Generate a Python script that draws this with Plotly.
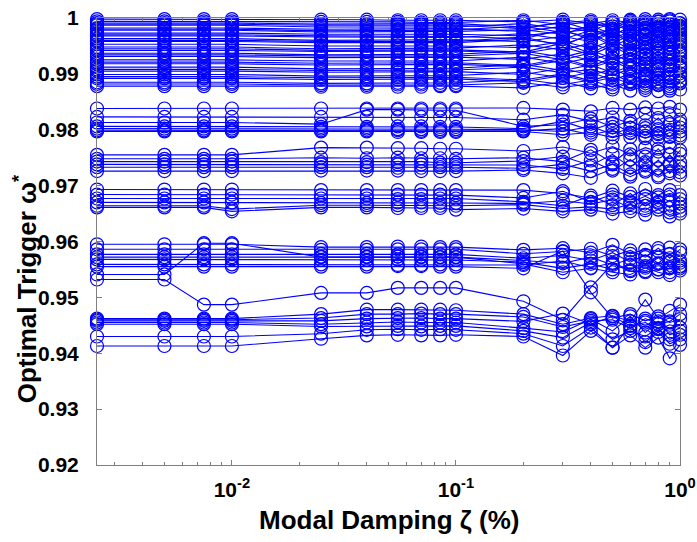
import numpy as np
import plotly.graph_objects as go

# modal damping values (x axis, log scale)
damping = [0.0025, 0.005, 0.0075, 0.01, 0.025, 0.04, 0.055, 0.07, 0.085, 0.1,
           0.2, 0.3, 0.4, 0.5, 0.6, 0.7, 0.8, 0.9, 1.0]

# optimal trigger values, one row per curve, grouped by band
band_top = [
    [0.9998, 0.9998, 0.9998, 0.9998, 0.9997, 0.9997, 0.9996, 0.9996, 0.9996, 0.9996, 0.9993, 0.9997, 0.9990, 0.9996, 0.9992, 0.9998, 0.9989, 0.9994, 0.9997],
    [0.9994, 0.9994, 0.9994, 0.9994, 0.9993, 0.9993, 0.9993, 0.9992, 0.9992, 0.9992, 0.9996, 0.9988, 0.9993, 0.9981, 0.9995, 0.9983, 0.9994, 0.9989, 0.9985],
    [0.9991, 0.9991, 0.9991, 0.9991, 0.9989, 0.9989, 0.9990, 0.9990, 0.9990, 0.9990, 0.9984, 0.9991, 0.9996, 0.9985, 0.9997, 0.9988, 0.9993, 0.9984, 0.9990],
    [0.9989, 0.9989, 0.9989, 0.9989, 0.9987, 0.9987, 0.9988, 0.9988, 0.9987, 0.9987, 0.9981, 0.9993, 0.9978, 0.9990, 0.9976, 0.9991, 0.9977, 0.9998, 0.9981],
    [0.9987, 0.9987, 0.9987, 0.9987, 0.9984, 0.9984, 0.9985, 0.9985, 0.9984, 0.9984, 0.9990, 0.9980, 0.9983, 0.9992, 0.9980, 0.9994, 0.9982, 0.9996, 0.9983],
    [0.9982, 0.9982, 0.9982, 0.9982, 0.9980, 0.9980, 0.9980, 0.9981, 0.9981, 0.9981, 0.9976, 0.9985, 0.9975, 0.9978, 0.9989, 0.9976, 0.9997, 0.9979, 0.9991],
    [0.9980, 0.9980, 0.9980, 0.9980, 0.9977, 0.9977, 0.9978, 0.9978, 0.9978, 0.9979, 0.9985, 0.9974, 0.9980, 0.9967, 0.9986, 0.9969, 0.9981, 0.9967, 0.9979],
    [0.9978, 0.9978, 0.9978, 0.9978, 0.9975, 0.9975, 0.9976, 0.9976, 0.9976, 0.9976, 0.9979, 0.9971, 0.9987, 0.9970, 0.9983, 0.9971, 0.9985, 0.9973, 0.9986],
    [0.9973, 0.9973, 0.9973, 0.9973, 0.9971, 0.9971, 0.9970, 0.9971, 0.9971, 0.9971, 0.9968, 0.9976, 0.9966, 0.9981, 0.9968, 0.9980, 0.9967, 0.9988, 0.9970],
    [0.9970, 0.9970, 0.9970, 0.9970, 0.9968, 0.9968, 0.9968, 0.9968, 0.9967, 0.9967, 0.9963, 0.9979, 0.9961, 0.9976, 0.9959, 0.9983, 0.9960, 0.9980, 0.9963],
    [0.9968, 0.9968, 0.9968, 0.9968, 0.9966, 0.9966, 0.9966, 0.9966, 0.9965, 0.9965, 0.9972, 0.9962, 0.9978, 0.9964, 0.9975, 0.9962, 0.9978, 0.9962, 0.9977],
    [0.9963, 0.9963, 0.9963, 0.9963, 0.9960, 0.9960, 0.9961, 0.9961, 0.9961, 0.9961, 0.9958, 0.9967, 0.9958, 0.9973, 0.9956, 0.9969, 0.9955, 0.9971, 0.9958],
    [0.9960, 0.9960, 0.9960, 0.9960, 0.9958, 0.9958, 0.9958, 0.9958, 0.9958, 0.9958, 0.9966, 0.9950, 0.9972, 0.9954, 0.9970, 0.9948, 0.9971, 0.9946, 0.9973],
    [0.9958, 0.9958, 0.9958, 0.9958, 0.9956, 0.9956, 0.9955, 0.9956, 0.9956, 0.9956, 0.9962, 0.9953, 0.9969, 0.9950, 0.9963, 0.9952, 0.9964, 0.9953, 0.9966],
    [0.9953, 0.9953, 0.9953, 0.9953, 0.9950, 0.9950, 0.9951, 0.9951, 0.9950, 0.9950, 0.9947, 0.9958, 0.9946, 0.9960, 0.9944, 0.9958, 0.9946, 0.9961, 0.9948],
    [0.9948, 0.9948, 0.9948, 0.9948, 0.9945, 0.9945, 0.9946, 0.9946, 0.9946, 0.9946, 0.9952, 0.9943, 0.9955, 0.9941, 0.9953, 0.9940, 0.9954, 0.9939, 0.9953],
    [0.9945, 0.9945, 0.9945, 0.9945, 0.9942, 0.9942, 0.9943, 0.9943, 0.9943, 0.9943, 0.9939, 0.9955, 0.9937, 0.9956, 0.9936, 0.9955, 0.9938, 0.9958, 0.9939],
    [0.9942, 0.9942, 0.9942, 0.9942, 0.9940, 0.9940, 0.9940, 0.9941, 0.9941, 0.9941, 0.9937, 0.9948, 0.9934, 0.9950, 0.9933, 0.9946, 0.9932, 0.9947, 0.9935],
    [0.9937, 0.9937, 0.9937, 0.9937, 0.9934, 0.9934, 0.9935, 0.9935, 0.9935, 0.9935, 0.9941, 0.9930, 0.9942, 0.9928, 0.9939, 0.9927, 0.9941, 0.9926, 0.9942],
    [0.9934, 0.9934, 0.9934, 0.9934, 0.9932, 0.9932, 0.9932, 0.9932, 0.9932, 0.9932, 0.9937, 0.9925, 0.9938, 0.9921, 0.9937, 0.9918, 0.9936, 0.9917, 0.9939],
    [0.9931, 0.9931, 0.9931, 0.9931, 0.9929, 0.9929, 0.9929, 0.9930, 0.9930, 0.9930, 0.9926, 0.9936, 0.9924, 0.9937, 0.9920, 0.9934, 0.9919, 0.9935, 0.9921],
    [0.9925, 0.9925, 0.9925, 0.9925, 0.9923, 0.9923, 0.9924, 0.9924, 0.9923, 0.9923, 0.9930, 0.9919, 0.9929, 0.9915, 0.9926, 0.9913, 0.9927, 0.9914, 0.9928],
    [0.9921, 0.9921, 0.9921, 0.9921, 0.9919, 0.9919, 0.9920, 0.9920, 0.9920, 0.9920, 0.9915, 0.9928, 0.9913, 0.9929, 0.9911, 0.9928, 0.9910, 0.9929, 0.9912],
    [0.9918, 0.9918, 0.9918, 0.9918, 0.9916, 0.9916, 0.9917, 0.9917, 0.9917, 0.9917, 0.9913, 0.9924, 0.9911, 0.9923, 0.9909, 0.9921, 0.9907, 0.9922, 0.9910],
    [0.9912, 0.9912, 0.9912, 0.9912, 0.9909, 0.9909, 0.9910, 0.9910, 0.9910, 0.9910, 0.9917, 0.9906, 0.9916, 0.9902, 0.9914, 0.9900, 0.9913, 0.9899, 0.9915],
    [0.9908, 0.9908, 0.9908, 0.9908, 0.9906, 0.9906, 0.9907, 0.9907, 0.9907, 0.9907, 0.9912, 0.9902, 0.9908, 0.9897, 0.9910, 0.9895, 0.9909, 0.9894, 0.9911],
    [0.9905, 0.9905, 0.9905, 0.9905, 0.9903, 0.9903, 0.9903, 0.9904, 0.9904, 0.9904, 0.9899, 0.9910, 0.9897, 0.9909, 0.9895, 0.9906, 0.9893, 0.9907, 0.9896],
    [0.9899, 0.9899, 0.9899, 0.9899, 0.9896, 0.9896, 0.9897, 0.9897, 0.9897, 0.9897, 0.9903, 0.9893, 0.9903, 0.9889, 0.9900, 0.9887, 0.9899, 0.9886, 0.9901],
    [0.9895, 0.9895, 0.9895, 0.9895, 0.9893, 0.9893, 0.9894, 0.9894, 0.9894, 0.9894, 0.9889, 0.9900, 0.9888, 0.9899, 0.9886, 0.9897, 0.9884, 0.9898, 0.9887],
    [0.9892, 0.9892, 0.9892, 0.9892, 0.9890, 0.9890, 0.9890, 0.9891, 0.9891, 0.9891, 0.9886, 0.9897, 0.9885, 0.9894, 0.9882, 0.9892, 0.9880, 0.9893, 0.9883],
    [0.9885, 0.9885, 0.9885, 0.9885, 0.9883, 0.9883, 0.9884, 0.9884, 0.9884, 0.9884, 0.9890, 0.9881, 0.9889, 0.9876, 0.9887, 0.9875, 0.9886, 0.9874, 0.9888],
    [0.9882, 0.9882, 0.9882, 0.9882, 0.9880, 0.9880, 0.9881, 0.9881, 0.9880, 0.9880, 0.9884, 0.9876, 0.9882, 0.9872, 0.9885, 0.9871, 0.9880, 0.9870, 0.9884],
    [0.9878, 0.9878, 0.9878, 0.9878, 0.9877, 0.9877, 0.9877, 0.9877, 0.9878, 0.9878, 0.9875, 0.9886, 0.9874, 0.9881, 0.9870, 0.9879, 0.9869, 0.9878, 0.9872],
]

band_098 = [
    [0.9838, 0.9838, 0.9838, 0.9838, 0.9838, 0.9838, 0.9838, 0.9838, 0.9838, 0.9838, 0.9839, 0.9836, 0.9833, 0.9839, 0.9836, 0.9840, 0.9838, 0.9841, 0.9836],
    [0.9823, 0.9823, 0.9823, 0.9823, 0.9823, 0.9823, 0.9823, 0.9823, 0.9822, 0.9822, 0.9818, 0.9827, 0.9815, 0.9822, 0.9811, 0.9829, 0.9817, 0.9826, 0.9812],
    [0.9813, 0.9813, 0.9813, 0.9813, 0.9810, 0.9836, 0.9836, 0.9835, 0.9835, 0.9835, 0.9806, 0.9809, 0.9820, 0.9805, 0.9816, 0.9803, 0.9821, 0.9800, 0.9818],
    [0.9806, 0.9806, 0.9806, 0.9806, 0.9805, 0.9805, 0.9806, 0.9806, 0.9805, 0.9805, 0.9802, 0.9815, 0.9799, 0.9812, 0.9795, 0.9808, 0.9794, 0.9810, 0.9797],
    [0.9802, 0.9802, 0.9802, 0.9802, 0.9802, 0.9802, 0.9801, 0.9801, 0.9801, 0.9801, 0.9800, 0.9797, 0.9806, 0.9792, 0.9803, 0.9789, 0.9801, 0.9788, 0.9804],
    [0.9799, 0.9799, 0.9799, 0.9799, 0.9799, 0.9799, 0.9799, 0.9798, 0.9798, 0.9798, 0.9798, 0.9802, 0.9791, 0.9799, 0.9787, 0.9797, 0.9786, 0.9795, 0.9790],
    [0.9797, 0.9797, 0.9797, 0.9797, 0.9797, 0.9797, 0.9796, 0.9796, 0.9796, 0.9796, 0.9797, 0.9791, 0.9795, 0.9786, 0.9794, 0.9785, 0.9792, 0.9787, 0.9786],
]

band_097 = [
    [0.9755, 0.9755, 0.9755, 0.9755, 0.9768, 0.9768, 0.9767, 0.9767, 0.9766, 0.9766, 0.9762, 0.9769, 0.9758, 0.9770, 0.9756, 0.9768, 0.9761, 0.9769, 0.9757],
    [0.9748, 0.9748, 0.9748, 0.9748, 0.9750, 0.9749, 0.9750, 0.9749, 0.9749, 0.9748, 0.9750, 0.9743, 0.9764, 0.9741, 0.9765, 0.9742, 0.9766, 0.9740, 0.9763],
    [0.9743, 0.9743, 0.9743, 0.9743, 0.9742, 0.9742, 0.9742, 0.9743, 0.9741, 0.9741, 0.9744, 0.9752, 0.9736, 0.9756, 0.9733, 0.9752, 0.9731, 0.9755, 0.9734],
    [0.9738, 0.9738, 0.9738, 0.9738, 0.9738, 0.9737, 0.9738, 0.9738, 0.9737, 0.9737, 0.9737, 0.9730, 0.9745, 0.9727, 0.9747, 0.9725, 0.9746, 0.9722, 0.9742],
    [0.9733, 0.9733, 0.9733, 0.9733, 0.9733, 0.9733, 0.9732, 0.9732, 0.9733, 0.9733, 0.9731, 0.9738, 0.9726, 0.9738, 0.9720, 0.9736, 0.9718, 0.9737, 0.9724],
    [0.9726, 0.9726, 0.9726, 0.9726, 0.9727, 0.9727, 0.9727, 0.9726, 0.9726, 0.9726, 0.9728, 0.9722, 0.9714, 0.9730, 0.9716, 0.9728, 0.9715, 0.9726, 0.9718],
]

band_0967 = [
    [0.9693, 0.9693, 0.9693, 0.9693, 0.9692, 0.9692, 0.9692, 0.9692, 0.9692, 0.9692, 0.9692, 0.9686, 0.9678, 0.9691, 0.9680, 0.9694, 0.9683, 0.9692, 0.9676],
    [0.9684, 0.9684, 0.9684, 0.9684, 0.9683, 0.9683, 0.9684, 0.9684, 0.9684, 0.9683, 0.9678, 0.9690, 0.9671, 0.9684, 0.9670, 0.9681, 0.9669, 0.9684, 0.9668],
    [0.9677, 0.9677, 0.9677, 0.9677, 0.9677, 0.9677, 0.9676, 0.9676, 0.9677, 0.9677, 0.9671, 0.9664, 0.9682, 0.9665, 0.9686, 0.9664, 0.9679, 0.9660, 0.9683],
    [0.9670, 0.9670, 0.9670, 0.9670, 0.9669, 0.9669, 0.9670, 0.9670, 0.9669, 0.9669, 0.9668, 0.9673, 0.9667, 0.9675, 0.9660, 0.9676, 0.9662, 0.9674, 0.9655],
    [0.9664, 0.9664, 0.9664, 0.9658, 0.9665, 0.9665, 0.9665, 0.9664, 0.9664, 0.9664, 0.9666, 0.9659, 0.9662, 0.9658, 0.9667, 0.9656, 0.9671, 0.9652, 0.9662],
    [0.9661, 0.9661, 0.9661, 0.9654, 0.9661, 0.9661, 0.9660, 0.9660, 0.9660, 0.9657, 0.9659, 0.9654, 0.9657, 0.9650, 0.9654, 0.9648, 0.9657, 0.9645, 0.9650],
]

band_0957 = [
    [0.9595, 0.9595, 0.9595, 0.9595, 0.9590, 0.9590, 0.9591, 0.9591, 0.9590, 0.9590, 0.9585, 0.9588, 0.9580, 0.9594, 0.9578, 0.9586, 0.9583, 0.9589, 0.9580],
    [0.9586, 0.9586, 0.9586, 0.9586, 0.9585, 0.9585, 0.9586, 0.9586, 0.9586, 0.9586, 0.9578, 0.9582, 0.9587, 0.9574, 0.9584, 0.9572, 0.9588, 0.9570, 0.9586],
    [0.9577, 0.9577, 0.9577, 0.9577, 0.9578, 0.9578, 0.9577, 0.9577, 0.9577, 0.9577, 0.9570, 0.9575, 0.9566, 0.9580, 0.9563, 0.9576, 0.9561, 0.9578, 0.9562],
    [0.9572, 0.9572, 0.9572, 0.9572, 0.9573, 0.9573, 0.9573, 0.9572, 0.9572, 0.9572, 0.9566, 0.9561, 0.9572, 0.9558, 0.9569, 0.9556, 0.9571, 0.9554, 0.9566],
    [0.9568, 0.9568, 0.9568, 0.9568, 0.9567, 0.9567, 0.9568, 0.9567, 0.9567, 0.9567, 0.9563, 0.9552, 0.9560, 0.9550, 0.9558, 0.9547, 0.9560, 0.9545, 0.9555],
    [0.9559, 0.9559, 0.9559, 0.9559, 0.9559, 0.9559, 0.9558, 0.9558, 0.9559, 0.9559, 0.9558, 0.9565, 0.9553, 0.9562, 0.9549, 0.9564, 0.9550, 0.9563, 0.9548],
    [0.9555, 0.9555, 0.9555, 0.9555, 0.9555, 0.9555, 0.9556, 0.9556, 0.9555, 0.9555, 0.9552, 0.9583, 0.9509, 0.9463, 0.9470, 0.9458, 0.9466, 0.9455, 0.9461],
    [0.9541, 0.9541, 0.9597, 0.9597, 0.9572, 0.9572, 0.9573, 0.9573, 0.9572, 0.9572, 0.9560, 0.9545, 0.9552, 0.9545, 0.9541, 0.9553, 0.9545, 0.9540, 0.9552],
    [0.9532, 0.9532, 0.9487, 0.9487, 0.9508, 0.9508, 0.9517, 0.9517, 0.9517, 0.9517, 0.9493, 0.9460, 0.9518, 0.9560, 0.9547, 0.9545, 0.9550, 0.9552, 0.9556],
]

band_0945 = [
    [0.9462, 0.9462, 0.9462, 0.9462, 0.9470, 0.9478, 0.9478, 0.9478, 0.9478, 0.9477, 0.9470, 0.9452, 0.9463, 0.9467, 0.9457, 0.9496, 0.9462, 0.9476, 0.9487],
    [0.9460, 0.9460, 0.9460, 0.9460, 0.9463, 0.9470, 0.9470, 0.9471, 0.9470, 0.9470, 0.9465, 0.9447, 0.9458, 0.9460, 0.9445, 0.9462, 0.9452, 0.9457, 0.9470],
    [0.9458, 0.9458, 0.9458, 0.9458, 0.9458, 0.9462, 0.9463, 0.9463, 0.9462, 0.9462, 0.9457, 0.9471, 0.9452, 0.9466, 0.9449, 0.9455, 0.9443, 0.9451, 0.9446],
    [0.9455, 0.9455, 0.9455, 0.9455, 0.9452, 0.9455, 0.9456, 0.9455, 0.9455, 0.9455, 0.9445, 0.9438, 0.9461, 0.9440, 0.9466, 0.9437, 0.9457, 0.9433, 0.9440],
    [0.9452, 0.9452, 0.9452, 0.9452, 0.9448, 0.9448, 0.9449, 0.9448, 0.9449, 0.9449, 0.9440, 0.9428, 0.9455, 0.9425, 0.9440, 0.9430, 0.9445, 0.9425, 0.9433],
    [0.9430, 0.9430, 0.9430, 0.9430, 0.9435, 0.9442, 0.9443, 0.9442, 0.9443, 0.9442, 0.9435, 0.9413, 0.9446, 0.9410, 0.9450, 0.9420, 0.9438, 0.9417, 0.9425],
    [0.9413, 0.9413, 0.9413, 0.9413, 0.9426, 0.9432, 0.9433, 0.9432, 0.9432, 0.9433, 0.9430, 0.9396, 0.9440, 0.9410, 0.9432, 0.9410, 0.9428, 0.9391, 0.9415],
]

y_ticks = [0.92, 0.93, 0.94, 0.95, 0.96, 0.97, 0.98, 0.99, 1.0]
y_labels = ["0.92", "0.93", "0.94", "0.95", "0.96", "0.97", "0.98", "0.99", "1"]
x_ticks = [0.01, 0.1, 1]
x_labels = ["10<sup>-2</sup>", "10<sup>-1</sup>", "10<sup>0</sup>"]

BLUE = "#0000ff"
FONT = "Liberation Sans, Arial, sans-serif"

fig = go.Figure()
for band in (band_top, band_098, band_097, band_0967, band_0957, band_0945):
    for row in band:
        fig.add_trace(go.Scatter(
            x=damping, y=row, mode="lines+markers",
            line=dict(color=BLUE, width=1.1),
            marker=dict(symbol="circle-open", size=13, color=BLUE, line=dict(width=1.2)),
            cliponaxis=False, showlegend=False, hoverinfo="skip"))

minor_x = [m * 10.0 ** e for e in (-3, -2, -1) for m in range(2, 10) if m * 10.0 ** e >= 0.0025]

axis_common = dict(
    showline=True, linecolor="#7f7f7f", linewidth=1, mirror="ticks",
    ticks="inside", ticklen=5, tickcolor="#7f7f7f", showgrid=False, zeroline=False,
    automargin=False, ticklabeloverflow="allow",
    tickfont=dict(family=FONT, size=21, color="black", weight="bold"),
)

fig.update_xaxes(
    type="log", range=[np.log10(0.0025), 0], tickvals=x_ticks, ticktext=x_labels,
    ticklabelstandoff=6,
    minor=dict(tickvals=minor_x, ticks="inside", ticklen=3, tickcolor="#7f7f7f"),
    **axis_common)
fig.update_yaxes(range=[0.92, 1.0], tickvals=y_ticks, ticktext=y_labels,
                 ticklabelstandoff=13, **axis_common)

fig.update_layout(
    width=697, height=542,
    margin=dict(l=97, r=17, t=18, b=77),
    paper_bgcolor="white", plot_bgcolor="white",
    font=dict(family=FONT, color="black"),
    annotations=[
        dict(text="<b>Modal Damping ζ (%)</b>", xref="paper", yref="paper",
             x=0.5, y=-0.123, xanchor="center", yanchor="middle",
             showarrow=False, font=dict(size=26, color="black")),
        dict(text="<b>Optimal Trigger ω<sup>*</sup></b>", xref="paper", yref="paper",
             x=-0.122, y=0.395, xanchor="center", yanchor="middle", textangle=-90,
             showarrow=False, font=dict(size=26, color="black")),
    ],
)

# drop the browser's default 8px body margin so the figure sits at the corner
fig.write_html("out.html", config={"displayModeBar": False},
               post_script="document.body.style.margin='0';document.body.style.overflow='hidden';")
